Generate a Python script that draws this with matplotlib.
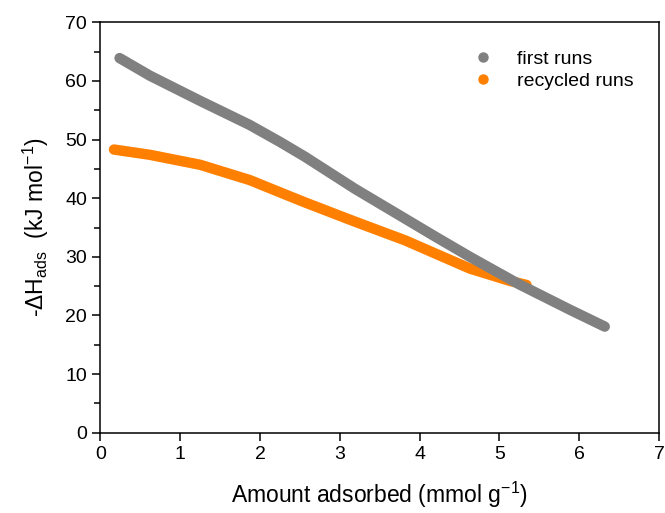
import matplotlib
matplotlib.use("Agg")
import matplotlib.pyplot as plt
from matplotlib.lines import Line2D
from matplotlib.ticker import MultipleLocator

plt.rcParams['font.family'] = ['Liberation Sans', 'DejaVu Sans']
plt.rcParams['mathtext.fontset'] = 'custom'
plt.rcParams['mathtext.rm'] = 'Liberation Sans'
plt.rcParams['mathtext.it'] = 'Liberation Sans'

# first runs
first_x = [0.24, 0.62, 1.25, 1.87, 2.25, 2.56, 3.19, 3.82, 4.19, 4.63, 5.25, 5.88, 6.32]
first_y = [63.9, 60.9, 56.6, 52.5, 49.6, 47.1, 41.6, 36.5, 33.5, 30.0, 25.3, 21.0, 18.1]
# recycled runs
rec_x = [0.17, 0.62, 1.25, 1.87, 2.25, 2.56, 3.19, 3.82, 4.19, 4.63, 5.13, 5.34]
rec_y = [48.3, 47.4, 45.7, 43.1, 41.0, 39.3, 36.0, 32.8, 30.6, 28.0, 25.9, 25.2]

labels = ['first runs', 'recycled runs']
colors = ['#808080', '#FF8000']

fig = plt.figure(figsize=(6.65, 5.13), dpi=100)
ax = fig.add_axes([0.151, 0.1565, 0.84, 0.80])

ax.plot(rec_x, rec_y, color=colors[1], lw=7.5, solid_capstyle='round', solid_joinstyle='round', zorder=2)
ax.plot(first_x, first_y, color=colors[0], lw=7.5, solid_capstyle='round', solid_joinstyle='round', zorder=3)

ax.set_xlim(0, 7)
ax.set_ylim(0, 70)
ax.xaxis.set_major_locator(MultipleLocator(1))
ax.yaxis.set_major_locator(MultipleLocator(10))
ax.yaxis.set_minor_locator(MultipleLocator(5))
ax.tick_params(which='both', direction='out', top=False, right=False, width=1.1, labelsize=14, colors='black')
ax.tick_params(which='major', length=6)
ax.tick_params(which='minor', length=4)
for s in ax.spines.values():
    s.set_linewidth(1.1)

ax.set_xlabel('Amount adsorbed (mmol g$^{-1}$)', fontsize=16.5, labelpad=12)
ax.set_ylabel('-ΔH$_{\\mathrm{ads}}$  (kJ mol$^{-1}$)', fontsize=16.5, labelpad=10)

handles = [Line2D([], [], marker='o', ls='none', color=c, markersize=6.5) for c in colors]
ax.legend(handles, labels, loc='upper right', frameon=False, fontsize=14,
          bbox_to_anchor=(0.985, 0.975), handletextpad=0.7, labelspacing=0.25)

fig.savefig('out.png', dpi=100)
